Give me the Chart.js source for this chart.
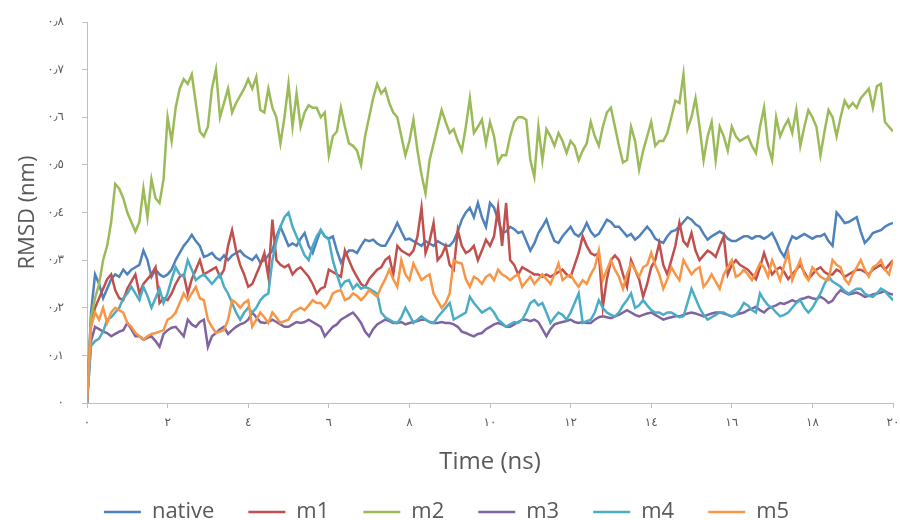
<!DOCTYPE html>
<html>
<head>
<meta charset="utf-8">
<title>RMSD</title>
<script src="https://cdn.jsdelivr.net/npm/chart.js@4.4.0/dist/chart.umd.min.js"></script>
<style>
    html, body { margin: 0; padding: 0; background: #ffffff; }
    #chart_box { width: 900px; height: 520px; }
</style>
</head>
<body>
<div id="chart_box"><canvas id="canvas" width="900" height="520"></canvas></div>
<script>
    // one sample every 0.1 ns, 0 .. 20 ns
    var timeStep = 0.1;
    var seriesNames = ['native', 'm1', 'm2', 'm3', 'm4', 'm5'];
    var seriesColors = ['#4F81BD', '#C0504D', '#9BBB59', '#8064A2', '#4BACC6', '#F79646'];
    var yTickLabels = ['٠', '٠٫١', '٠٫٢', '٠٫٣', '٠٫٤', '٠٫٥', '٠٫٦', '٠٫٧', '٠٫٨'];
    var xTickLabels = ['٠', '٢', '٤', '٦', '٨', '١٠', '١٢', '١٤', '١٦', '١٨', '٢٠'];

    var rmsdNative = [
        0, 0.19, 0.27, 0.25, 0.22, 0.24, 0.26, 0.27, 0.265, 0.28,
        0.27, 0.28, 0.285, 0.29, 0.32, 0.30, 0.265, 0.28, 0.27, 0.265,
        0.27, 0.28, 0.30, 0.315, 0.33, 0.34, 0.353, 0.34, 0.33, 0.307,
        0.31, 0.315, 0.305, 0.30, 0.31, 0.30, 0.31, 0.315, 0.32, 0.31,
        0.305, 0.30, 0.31, 0.295, 0.30, 0.31, 0.32, 0.35, 0.37, 0.35,
        0.33, 0.335, 0.33, 0.345, 0.357, 0.33, 0.315, 0.34, 0.363, 0.35,
        0.345, 0.35, 0.32, 0.295, 0.31, 0.32, 0.32, 0.315, 0.33, 0.343,
        0.34, 0.343, 0.335, 0.33, 0.33, 0.345, 0.36, 0.378, 0.36, 0.343,
        0.345, 0.34, 0.335, 0.33, 0.34, 0.335, 0.33, 0.34, 0.335, 0.33,
        0.33, 0.34, 0.36, 0.385, 0.40, 0.41, 0.39, 0.42, 0.39, 0.37,
        0.42, 0.41, 0.385, 0.357, 0.36, 0.37, 0.365, 0.357, 0.36, 0.34,
        0.32, 0.335, 0.357, 0.37, 0.385, 0.36, 0.34, 0.336, 0.35, 0.36,
        0.37, 0.355, 0.35, 0.36, 0.378, 0.36, 0.35, 0.355, 0.37, 0.385,
        0.38, 0.37, 0.37, 0.36, 0.35, 0.355, 0.343, 0.35, 0.36, 0.37,
        0.36, 0.345, 0.34, 0.336, 0.35, 0.36, 0.363, 0.37, 0.38, 0.39,
        0.385, 0.375, 0.37, 0.355, 0.343, 0.35, 0.355, 0.36, 0.355, 0.345,
        0.34, 0.34, 0.345, 0.35, 0.35, 0.345, 0.35, 0.35, 0.345, 0.35,
        0.357, 0.34, 0.32, 0.307, 0.33, 0.35, 0.345, 0.35, 0.355, 0.35,
        0.345, 0.35, 0.35, 0.355, 0.34, 0.33, 0.40, 0.39, 0.378, 0.38,
        0.385, 0.39, 0.36, 0.336, 0.345, 0.357, 0.36, 0.363, 0.37, 0.375,
        0.378
    ];
    var rmsdM1 = [
        0, 0.17, 0.20, 0.22, 0.24, 0.26, 0.27, 0.237, 0.22, 0.216,
        0.24, 0.255, 0.27, 0.23, 0.25, 0.26, 0.27, 0.285, 0.21, 0.22,
        0.216, 0.23, 0.25, 0.265, 0.27, 0.23, 0.26, 0.28, 0.30, 0.27,
        0.275, 0.28, 0.285, 0.265, 0.28, 0.33, 0.363, 0.32, 0.29, 0.27,
        0.244, 0.25, 0.27, 0.29, 0.315, 0.265, 0.385, 0.30, 0.29, 0.285,
        0.29, 0.27, 0.28, 0.285, 0.275, 0.265, 0.25, 0.23, 0.24, 0.244,
        0.28, 0.275, 0.27, 0.265, 0.32, 0.30, 0.28, 0.265, 0.25, 0.244,
        0.26, 0.27, 0.28, 0.285, 0.30, 0.307, 0.27, 0.33, 0.32, 0.315,
        0.31, 0.32, 0.35, 0.41, 0.315, 0.34, 0.378, 0.30, 0.31, 0.33,
        0.29, 0.28, 0.363, 0.33, 0.315, 0.32, 0.33, 0.30, 0.32, 0.343,
        0.33, 0.35, 0.41, 0.33, 0.42, 0.30, 0.29, 0.27, 0.285, 0.28,
        0.275, 0.27, 0.27, 0.265, 0.27, 0.265, 0.27, 0.275, 0.28, 0.27,
        0.265, 0.29, 0.315, 0.35, 0.33, 0.315, 0.31, 0.315, 0.202, 0.26,
        0.30, 0.31, 0.30, 0.27, 0.244, 0.30, 0.28, 0.26, 0.223, 0.25,
        0.285, 0.30, 0.336, 0.29, 0.27, 0.30, 0.33, 0.378, 0.34, 0.33,
        0.357, 0.32, 0.30, 0.31, 0.32, 0.315, 0.307, 0.33, 0.35, 0.27,
        0.29, 0.30, 0.29, 0.285, 0.28, 0.27, 0.26, 0.285, 0.315, 0.29,
        0.27, 0.28, 0.285, 0.275, 0.26, 0.27, 0.28, 0.29, 0.275, 0.26,
        0.27, 0.28, 0.285, 0.275, 0.27, 0.27, 0.28, 0.275, 0.265, 0.27,
        0.275, 0.28, 0.28, 0.275, 0.27, 0.28, 0.285, 0.29, 0.28, 0.29,
        0.30
    ];
    var rmsdM2 = [
        0, 0.18, 0.22, 0.25, 0.30, 0.33, 0.38, 0.46, 0.45, 0.43,
        0.40, 0.38, 0.36, 0.38, 0.45, 0.39, 0.47, 0.43, 0.42, 0.47,
        0.60, 0.55, 0.62, 0.66, 0.68, 0.67, 0.69, 0.63, 0.57, 0.56,
        0.58, 0.66, 0.70, 0.60, 0.63, 0.66, 0.61, 0.63, 0.645, 0.66,
        0.68, 0.66, 0.685, 0.615, 0.61, 0.66, 0.62, 0.60, 0.545, 0.60,
        0.67, 0.58, 0.65, 0.58, 0.61, 0.625, 0.62, 0.62, 0.60, 0.61,
        0.52, 0.56, 0.57, 0.62, 0.58, 0.545, 0.54, 0.53, 0.50, 0.56,
        0.60, 0.64, 0.67, 0.65, 0.66, 0.63, 0.61, 0.60, 0.56, 0.52,
        0.55, 0.595, 0.53, 0.48, 0.44, 0.51, 0.545, 0.58, 0.615, 0.59,
        0.567, 0.575, 0.55, 0.53, 0.58, 0.64, 0.567, 0.58, 0.595, 0.545,
        0.59, 0.56, 0.505, 0.52, 0.52, 0.56, 0.59, 0.60, 0.60, 0.595,
        0.51, 0.475, 0.58, 0.51, 0.575, 0.56, 0.54, 0.567, 0.55, 0.525,
        0.55, 0.54, 0.51, 0.53, 0.545, 0.59, 0.56, 0.54, 0.58, 0.61,
        0.62, 0.58, 0.54, 0.505, 0.51, 0.58, 0.55, 0.49, 0.53, 0.56,
        0.59, 0.54, 0.55, 0.55, 0.567, 0.60, 0.635, 0.63, 0.69, 0.575,
        0.60, 0.64, 0.58, 0.51, 0.56, 0.59, 0.51, 0.58, 0.56, 0.53,
        0.58, 0.56, 0.55, 0.555, 0.56, 0.54, 0.525, 0.58, 0.62, 0.54,
        0.51, 0.60, 0.56, 0.58, 0.595, 0.567, 0.615, 0.54, 0.58, 0.615,
        0.60, 0.58, 0.52, 0.57, 0.615, 0.60, 0.56, 0.60, 0.635, 0.62,
        0.63, 0.62, 0.64, 0.65, 0.66, 0.62, 0.665, 0.67, 0.59, 0.58,
        0.57
    ];
    var rmsdM3 = [
        0, 0.13, 0.16, 0.155, 0.15, 0.147, 0.14, 0.145, 0.15, 0.153,
        0.168, 0.155, 0.14, 0.14, 0.133, 0.137, 0.14, 0.13, 0.118, 0.145,
        0.153, 0.158, 0.16, 0.15, 0.14, 0.175, 0.165, 0.16, 0.17, 0.175,
        0.118, 0.14, 0.147, 0.155, 0.16, 0.145, 0.153, 0.16, 0.165, 0.168,
        0.175, 0.19, 0.18, 0.17, 0.168, 0.17, 0.175, 0.17, 0.165, 0.16,
        0.16, 0.165, 0.17, 0.168, 0.17, 0.175, 0.17, 0.165, 0.16, 0.14,
        0.15, 0.16, 0.165, 0.175, 0.18, 0.185, 0.19, 0.18, 0.168, 0.15,
        0.14, 0.155, 0.165, 0.17, 0.175, 0.172, 0.168, 0.168, 0.17, 0.165,
        0.168, 0.17, 0.172, 0.175, 0.175, 0.17, 0.168, 0.168, 0.17, 0.168,
        0.168, 0.165, 0.16, 0.15, 0.147, 0.143, 0.14, 0.145, 0.147, 0.155,
        0.16, 0.165, 0.168, 0.165, 0.16, 0.16, 0.165, 0.17, 0.175, 0.175,
        0.172, 0.175, 0.17, 0.155, 0.14, 0.155, 0.165, 0.168, 0.17, 0.172,
        0.175, 0.17, 0.168, 0.17, 0.168, 0.168, 0.175, 0.18, 0.182, 0.18,
        0.178, 0.182, 0.185, 0.19, 0.195, 0.19, 0.185, 0.182, 0.185, 0.188,
        0.19, 0.185, 0.18, 0.175, 0.178, 0.18, 0.182, 0.182, 0.185, 0.188,
        0.19, 0.188, 0.185, 0.182, 0.185, 0.188, 0.19, 0.19, 0.188, 0.185,
        0.182, 0.185, 0.188, 0.19, 0.195, 0.198, 0.202, 0.195, 0.19, 0.198,
        0.202, 0.205, 0.21, 0.208, 0.212, 0.216, 0.212, 0.218, 0.22, 0.223,
        0.22, 0.218, 0.223, 0.218, 0.21, 0.215, 0.228, 0.237, 0.232, 0.228,
        0.23, 0.232, 0.228, 0.223, 0.225, 0.228, 0.23, 0.232, 0.235, 0.23,
        0.228
    ];
    var rmsdM4 = [
        0, 0.12, 0.13, 0.135, 0.15, 0.175, 0.18, 0.19, 0.20, 0.22,
        0.23, 0.244, 0.23, 0.216, 0.244, 0.225, 0.20, 0.22, 0.24, 0.21,
        0.23, 0.26, 0.285, 0.27, 0.265, 0.30, 0.28, 0.258, 0.265, 0.27,
        0.26, 0.25, 0.26, 0.27, 0.244, 0.23, 0.21, 0.19, 0.175, 0.19,
        0.20, 0.19, 0.20, 0.216, 0.225, 0.23, 0.30, 0.34, 0.37, 0.39,
        0.40, 0.37, 0.35, 0.33, 0.31, 0.30, 0.33, 0.35, 0.363, 0.35,
        0.343, 0.30, 0.27, 0.244, 0.255, 0.258, 0.24, 0.25, 0.24, 0.244,
        0.24, 0.235, 0.23, 0.19, 0.18, 0.175, 0.17, 0.168, 0.18, 0.20,
        0.185, 0.168, 0.175, 0.182, 0.175, 0.17, 0.168, 0.18, 0.19, 0.20,
        0.21, 0.175, 0.18, 0.185, 0.19, 0.223, 0.21, 0.20, 0.19, 0.195,
        0.20, 0.19, 0.175, 0.168, 0.16, 0.165, 0.17, 0.168, 0.175, 0.19,
        0.21, 0.216, 0.205, 0.21, 0.19, 0.168, 0.18, 0.19, 0.185, 0.175,
        0.19, 0.21, 0.23, 0.168, 0.172, 0.175, 0.19, 0.216, 0.20, 0.19,
        0.185, 0.182, 0.19, 0.205, 0.216, 0.23, 0.20, 0.205, 0.216, 0.205,
        0.195, 0.19, 0.19, 0.185, 0.19, 0.19, 0.185, 0.18, 0.182, 0.21,
        0.24, 0.22, 0.20, 0.185, 0.175, 0.18, 0.185, 0.19, 0.19, 0.185,
        0.182, 0.185, 0.195, 0.21, 0.205, 0.195, 0.19, 0.23, 0.216, 0.205,
        0.20, 0.19, 0.182, 0.185, 0.19, 0.20, 0.21, 0.216, 0.20, 0.19,
        0.20, 0.215, 0.23, 0.25, 0.265, 0.255, 0.25, 0.244, 0.235, 0.23,
        0.235, 0.24, 0.24, 0.23, 0.225, 0.223, 0.23, 0.24, 0.235, 0.225,
        0.216
    ];
    var rmsdM5 = [
        0, 0.16, 0.19, 0.175, 0.20, 0.168, 0.19, 0.20, 0.195, 0.19,
        0.168, 0.16, 0.147, 0.14, 0.133, 0.14, 0.145, 0.147, 0.15, 0.153,
        0.175, 0.18, 0.19, 0.21, 0.23, 0.216, 0.23, 0.244, 0.22, 0.216,
        0.175, 0.16, 0.147, 0.15, 0.153, 0.175, 0.216, 0.21, 0.20, 0.21,
        0.216, 0.16, 0.175, 0.19, 0.18, 0.168, 0.19, 0.18, 0.168, 0.172,
        0.175, 0.19, 0.195, 0.20, 0.195, 0.205, 0.216, 0.21, 0.21, 0.20,
        0.21, 0.23, 0.235, 0.237, 0.216, 0.22, 0.23, 0.225, 0.216, 0.225,
        0.237, 0.23, 0.223, 0.244, 0.26, 0.28, 0.26, 0.244, 0.30, 0.27,
        0.258, 0.293, 0.275, 0.258, 0.265, 0.27, 0.23, 0.215, 0.20, 0.21,
        0.23, 0.30, 0.295, 0.293, 0.26, 0.244, 0.265, 0.26, 0.25, 0.265,
        0.27, 0.258, 0.28, 0.27, 0.265, 0.258, 0.265, 0.27, 0.244, 0.255,
        0.265, 0.25, 0.26, 0.27, 0.26, 0.25, 0.27, 0.293, 0.258, 0.265,
        0.27, 0.255, 0.244, 0.258, 0.25, 0.27, 0.285, 0.32, 0.258, 0.28,
        0.30, 0.28, 0.265, 0.24, 0.27, 0.293, 0.28, 0.265, 0.285, 0.29,
        0.315, 0.29, 0.27, 0.24, 0.26, 0.285, 0.27, 0.258, 0.30, 0.285,
        0.27, 0.28, 0.285, 0.244, 0.255, 0.27, 0.255, 0.24, 0.27, 0.285,
        0.30, 0.265, 0.27, 0.28, 0.27, 0.258, 0.275, 0.293, 0.285, 0.265,
        0.30, 0.28, 0.258, 0.29, 0.315, 0.258, 0.28, 0.30, 0.27, 0.258,
        0.285, 0.275, 0.265, 0.26, 0.258, 0.30, 0.29, 0.285, 0.26, 0.25,
        0.27, 0.285, 0.30, 0.28, 0.265, 0.285, 0.29, 0.30, 0.28, 0.27,
        0.30
    ];
    var seriesValues = [rmsdNative, rmsdM1, rmsdM2, rmsdM3, rmsdM4, rmsdM5];

    var textColor = '#595959';
    var axisColor = '#BFBFBF';

    function toPoints(values) {
        var points = [];
        for (var i = 0; i < values.length; i++) {
            points.push({x: Math.round(i * timeStep * 10) / 10, y: values[i]});
        }
        return points;
    }

    var datasets = [];
    for (var s = 0; s < seriesNames.length; s++) {
        datasets.push({
            label: seriesNames[s],
            data: toPoints(seriesValues[s]),
            borderColor: seriesColors[s],
            backgroundColor: seriesColors[s],
            borderWidth: 2.5,
            pointRadius: 0,
            pointStyle: 'line',
            tension: 0,
            fill: false,
            // excel paints the last series on top
            order: seriesNames.length - s
        });
    }

    var ctx = document.getElementById('canvas').getContext('2d');
    var myChart = new Chart(ctx, {
        type: 'line',
        data: {datasets: datasets},
        options: {
            responsive: false,
            animation: false,
            layout: {padding: {top: 22, right: 7, left: 0, bottom: 0}},
            plugins: {
                tooltip: {enabled: false},
                legend: {
                    position: 'bottom',
                    maxHeight: 53,
                    labels: {
                        usePointStyle: true,
                        pointStyle: 'line',
                        pointStyleWidth: 37,
                        padding: 34,
                        color: textColor,
                        font: {family: 'Open Sans', size: 22},
                        sort: function (a, b) { return a.datasetIndex - b.datasetIndex; }
                    }
                }
            },
            scales: {
                x: {
                    type: 'linear',
                    min: 0,
                    max: 20,
                    ticks: {
                        stepSize: 2,
                        padding: 8,
                        color: textColor,
                        font: {family: 'DejaVu Sans', size: 12},
                        callback: function (v) { return xTickLabels[Math.round(v / 2)]; }
                    },
                    grid: {drawOnChartArea: false, color: axisColor, tickLength: 5},
                    border: {color: axisColor},
                    title: {
                        display: true,
                        text: 'Time (ns)',
                        color: textColor,
                        font: {family: 'Open Sans', size: 24},
                        padding: {top: 0, bottom: -10}
                    },
                    afterFit: function (scale) {
                        scale.height = 64;
                        scale.paddingLeft = 0;
                        scale.paddingRight = 0;
                    }
                },
                y: {
                    type: 'linear',
                    min: 0,
                    max: 0.8,
                    ticks: {
                        stepSize: 0.1,
                        padding: 18,
                        color: textColor,
                        font: {family: 'DejaVu Sans', size: 12},
                        callback: function (v) { return yTickLabels[Math.round(v * 10)]; }
                    },
                    grid: {drawOnChartArea: false, color: axisColor, tickLength: 5},
                    border: {color: axisColor},
                    title: {
                        display: true,
                        text: 'RMSD (nm)',
                        color: textColor,
                        font: {family: 'Open Sans', size: 22},
                        padding: {top: 15, bottom: 0}
                    },
                    afterFit: function (scale) {
                        scale.width = 87;
                        scale.paddingTop = 0;
                        scale.paddingBottom = 0;
                    }
                }
            }
        }
    });
</script>
</body>
</html>
